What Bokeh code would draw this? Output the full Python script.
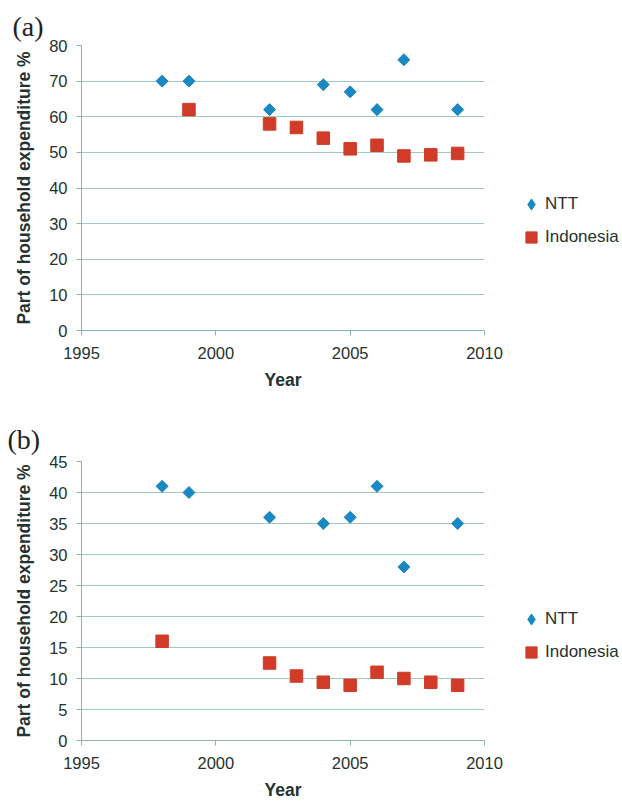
import math
from bokeh.plotting import figure
from bokeh.layouts import column, row
from bokeh.models import Legend, LegendItem, Range1d, FixedTicker
from bokeh.embed import file_html
from bokeh.resources import INLINE

# ---- data ----
x_ticks = [1995, 2000, 2005, 2010]

ntt_years_a = [1998, 1999, 2002, 2004, 2005, 2006, 2007, 2009]
ntt_vals_a = [70, 70, 62, 69, 67, 62, 76, 62]
ind_years_a = [1999, 2002, 2003, 2004, 2005, 2006, 2007, 2008, 2009]
ind_vals_a = [62, 58, 57, 54, 51, 52, 49, 49.3, 49.7]
y_ticks_a = [0, 10, 20, 30, 40, 50, 60, 70, 80]

ntt_years_b = [1998, 1999, 2002, 2004, 2005, 2006, 2007, 2009]
ntt_vals_b = [41, 40, 36, 35, 36, 41, 28, 35]
ind_years_b = [1998, 2002, 2003, 2004, 2005, 2006, 2007, 2008, 2009]
ind_vals_b = [16, 12.5, 10.4, 9.4, 8.9, 11, 10, 9.4, 8.9]
y_ticks_b = [0, 5, 10, 15, 20, 25, 30, 35, 40, 45]

series_names = ["NTT", "Indonesia"]
x_label = "Year"
y_label = "Part of household expenditure %"

BLUE = "#1a88c2"
RED = "#d03c28"
GRID = "#9fcbbf"
AXIS = "#8ab6aa"
TEXT = "#24332f"
FONT = "Liberation Sans"

MAIN_W = 506
LEG_W = 622 - MAIN_W


def make_panel(tag, tag_offset, tag_standoff, ntt_x, ntt_y, ind_x, ind_y,
               y_ticks, height, top, bottom, legend_y):
    p = figure(width=MAIN_W, height=height, output_backend="svg",
               toolbar_location=None,
               x_range=Range1d(x_ticks[0], x_ticks[-1]),
               y_range=Range1d(y_ticks[0], y_ticks[-1]),
               min_border_left=81, min_border_right=MAIN_W - 484,
               min_border_top=top, min_border_bottom=bottom)
    p.outline_line_color = None
    p.background_fill_color = "white"
    p.border_fill_color = "white"

    p.title.text = tag
    p.title.text_font = "Liberation Serif"
    p.title.text_font_size = "28px"
    p.title.text_font_style = "normal"
    p.title.text_color = "#222222"
    p.title.align = "left"
    p.title.offset = tag_offset
    p.title.standoff = tag_standoff

    p.xgrid.visible = False
    p.ygrid.grid_line_color = GRID
    p.ygrid.grid_line_width = 1

    p.xaxis.ticker = FixedTicker(ticks=x_ticks)
    p.yaxis.ticker = FixedTicker(ticks=y_ticks)
    for ax in (p.xaxis, p.yaxis):
        ax.axis_line_color = AXIS
        ax.major_tick_line_color = AXIS
        ax.minor_tick_line_color = None
        ax.major_tick_in = 0
        ax.major_tick_out = 5
        ax.major_label_text_font = FONT
        ax.major_label_text_font_size = "16.5px"
        ax.major_label_text_color = TEXT
        ax.axis_label_text_font = FONT
        ax.axis_label_text_font_size = "17.5px"
        ax.axis_label_text_font_style = "bold"
        ax.axis_label_text_color = TEXT
    p.xaxis.axis_label = x_label
    p.yaxis.axis_label = y_label
    p.xaxis.major_label_standoff = 11
    p.xaxis.axis_label_standoff = 8
    p.yaxis.major_label_standoff = 9
    p.yaxis.axis_label_standoff = 12

    p.scatter(ntt_x, ntt_y, marker="square", size=8.5, angle=math.pi / 4,
              fill_color=BLUE, line_color=BLUE)
    p.scatter(ind_x, ind_y, marker="square", size=12.5,
              fill_color=RED, line_color=RED)

    # legend-only figure to the right: same series, but its ranges keep
    # the marks out of view so that only the legend shows
    q = figure(width=LEG_W, height=height, output_backend="svg",
               toolbar_location=None, x_axis_location=None,
               y_axis_location=None, x_range=Range1d(0, 1),
               y_range=Range1d(0, 1),
               min_border_left=0, min_border_right=0,
               min_border_top=top, min_border_bottom=bottom)
    q.outline_line_color = None
    q.grid.visible = False
    q.background_fill_color = "white"
    q.border_fill_color = "white"
    l1 = q.scatter(ntt_x, ntt_y, marker="diamond", size=8.5,
                   fill_color=BLUE, line_color=BLUE)
    l2 = q.scatter(ind_x, ind_y, marker="square", size=12.5,
                   fill_color=RED, line_color=RED)
    legend = Legend(items=[LegendItem(label=series_names[0], renderers=[l1]),
                           LegendItem(label=series_names[1], renderers=[l2])],
                    location=(517 - MAIN_W, legend_y), padding=0, margin=0,
                    border_line_color=None, background_fill_alpha=0,
                    label_text_font=FONT, label_text_font_size="17px",
                    label_text_color=TEXT,
                    glyph_width=28, glyph_height=28, label_height=28,
                    spacing=5, label_standoff=0)
    q.add_layout(legend)
    return row(p, q)


pa = make_panel("(a)", -69, 8, ntt_years_a, ntt_vals_a, ind_years_a, ind_vals_a,
                y_ticks_a, height=394, top=45, bottom=64, legend_y=79)
pb = make_panel("(b)", -74, 13, ntt_years_b, ntt_vals_b, ind_years_b, ind_vals_b,
                y_ticks_b, height=408, top=67, bottom=62, legend_y=74)

layout = column(pa, pb)
open("out.html", "w").write(file_html(layout, INLINE))
